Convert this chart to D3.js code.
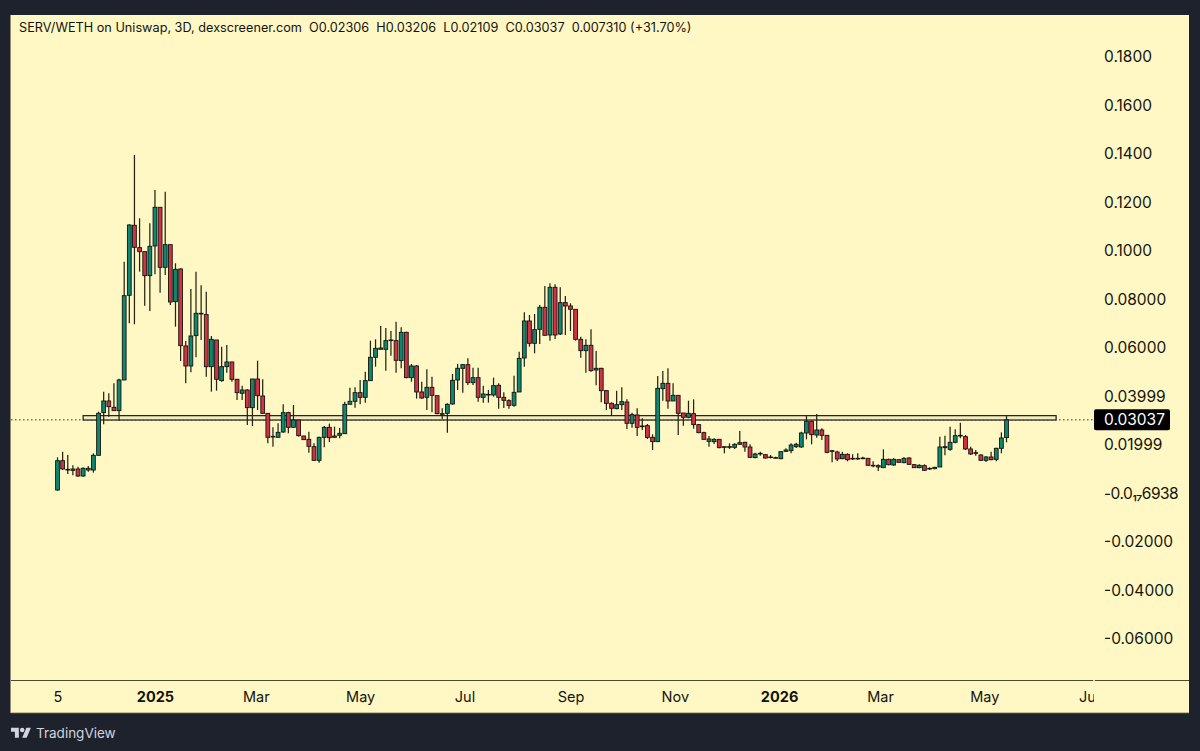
<!DOCTYPE html>
<html>
<head>
<meta charset="utf-8">
<script src="https://cdn.jsdelivr.net/npm/d3@7"></script>
<style>
    html, body { margin: 0; padding: 0; background: #1e222d; }
    svg { display: block; }
    text { font-family: Inter, "Noto Sans", sans-serif; }
</style>
</head>
<body>
<div id="chart"></div>
<script>
// SERV/WETH 3D candles, starting 5 Nov 2024
const candleCount = 186;
const opens = [
    .00144,.01354,.00969,.00955,.01010,.00722,.01038,.00969,.01574,.03333,
    .03815,.03553,.03416,.04681,.08172,.11059,.10138,.09973,.08983,.10207,
    .11801,.09327,.10261,.07911,.09258,.06083,.05258,.06509,.07430,.07375,
    .05230,.06330,.04653,.05230,.05423,.04708,.04131,.04268,.03540,.04722,
    .04021,.03306,.02357,.02316,.02536,.03333,.02729,.03031,.02371,.02234,
    .01931,.01368,.02316,.02729,.02371,.02399,.02467,.03677,.03801,.04158,
    .03966,.04653,.05615,.05945,.05945,.06303,.06303,.05478,.06646,.04777,
    .05258,.04186,.03966,.04378,.04034,.03292,.03306,.03691,.04681,.05162,
    .05313,.04571,.04777,.03966,.04089,.04062,.04461,.03966,.03828,.03636,
    .04186,.05588,.07114,.06193,.06770,.07677,.06536,.08502,.06577,.07870,
    .07732,.07595,.06358,.05890,.06110,.05093,.05162,.04241,.03718,.03498,
    .03663,.03773,.02894,.03237,.02784,.02797,.02316,.02138,.04323,.04543,
    .03815,.04048,.03320,.03141,.03292,.02839,.02509,.02151,.02138,.02234,
    .01931,.01904,.01904,.02028,.02110,.01918,.01478,.01629,.01601,.01505,
    .01478,.01436,.01739,.01766,.01931,.01918,.02495,.02976,.02412,.02619,
    .02399,.01766,.01711,.01436,.01615,.01450,.01450,.01464,.01450,.01162,
    .01148,.01065,.01409,.01175,.01395,.01272,.01464,.01189,.01065,.01148,
    .01038,.01024,.01093,.01890,.01821,.02110,.02399,.02344,.01835,.01684,
    .01588,.01368,.01505,.01409,.01863,.02306
];
const highs = [
    .01491,.01725,.01588,.01162,.01107,.01079,.01134,.01656,.03375,.04199,
    .04131,.04543,.04736,.09560,.11100,.13959,.11347,.09973,.11141,.12516,
    .11801,.12447,.10261,.09492,.09285,.06289,.08433,.09148,.08584,.08323,
    .06495,.06330,.06055,.06124,.05437,.04736,.04447,.04296,.04722,.05478,
    .04708,.03306,.02729,.02894,.03677,.03375,.03650,.03031,.02385,.02550,
    .02069,.02344,.02784,.02880,.02756,.02701,.03787,.04364,.04378,.04681,
    .05024,.06303,.06358,.06907,.06825,.06701,.07086,.06852,.06674,.05340,
    .05299,.04612,.05120,.04818,.04034,.03512,.03718,.04928,.05340,.05340,
    .05574,.05189,.05189,.04447,.04268,.04777,.04543,.04172,.03883,.04859,
    .05849,.07471,.07361,.07402,.07773,.08557,.08667,.08626,.08502,.08145,
    .07842,.07595,.06468,.06358,.06770,.05876,.05189,.04268,.03760,.04241,
    .04378,.03883,.03333,.03512,.03100,.02866,.02440,.04845,.05052,.05162,
    .04543,.04048,.03320,.03828,.03883,.02866,.02550,.02371,.02275,.02248,
    .01931,.02069,.02069,.02577,.02138,.02028,.01684,.01725,.01629,.01588,
    .01519,.01753,.01863,.02069,.02096,.02550,.03196,.02990,.03278,.02687,
    .02399,.01794,.01766,.01725,.01656,.01615,.01656,.01519,.01464,.01326,
    .01203,.01821,.01436,.01450,.01409,.01491,.01491,.01217,.01203,.01203,
    .01079,.01107,.02344,.02385,.02756,.02646,.02921,.02412,.01931,.01794,
    .01615,.01546,.01725,.01890,.02522,.03206
];
const lows = [
    .00117,.00969,.00804,.00749,.00694,.00694,.00900,.00859,.01574,.02852,
    .03168,.03416,.03004,.04681,.07017,.06976,.09148,.07746,.07526,.09038,
    .08282,.09011,.07773,.06880,.05464,.04543,.04997,.05615,.06330,.04818,
    .04199,.04241,.04612,.04983,.04612,.03856,.03856,.02825,.02784,.03443,
    .03278,.02069,.01931,.02316,.02509,.02481,.02715,.02344,.02206,.01684,
    .01354,.01272,.01904,.02124,.02302,.02275,.02467,.03677,.03540,.03677,
    .03746,.04653,.05230,.05945,.05065,.05684,.04983,.05162,.04749,.04612,
    .03911,.03897,.03443,.03347,.03265,.03059,.02509,.03663,.04268,.04158,
    .04474,.04474,.03787,.03746,.03746,.03993,.03498,.03526,.03498,.03581,
    .04186,.05230,.06055,.05780,.06165,.06522,.06303,.06371,.06536,.06536,
    .06701,.06303,.05602,.04983,.05024,.04461,.03760,.03443,.03237,.03471,
    .03443,.02660,.02715,.02371,.02619,.02248,.01794,.02138,.03828,.03498,
    .03815,.02412,.02797,.03100,.02674,.02481,.02206,.01931,.02041,.01862,
    .01656,.01835,.01835,.02000,.01725,.01464,.01450,.01560,.01436,.01450,
    .01450,.01409,.01711,.01656,.01876,.01890,.02234,.02028,.02302,.02206,
    .01656,.01285,.01340,.01409,.01326,.01381,.01395,.01409,.01148,.01079,
    .00928,.01052,.01162,.01148,.01258,.01244,.01175,.01052,.01038,.00928,
    .00969,.00997,.01093,.01574,.01766,.02069,.02275,.01794,.01588,.01560,
    .01340,.01299,.01368,.01326,.01656,.02109
];
const closes = [
    .01354,.01010,.00997,.01010,.00722,.01038,.00969,.01574,.03306,.03815,
    .03581,.03416,.04681,.08158,.11072,.10152,.09973,.08983,.10193,.11801,
    .09327,.10261,.07897,.09244,.06096,.05258,.06495,.07430,.07402,.05230,
    .06358,.04708,.05230,.05423,.04708,.04158,.04268,.03540,.04722,.04034,
    .03306,.02316,.02330,.02522,.03333,.02729,.03031,.02385,.02220,.01945,
    .01368,.02316,.02729,.02302,.02316,.02481,.03677,.03801,.04158,.03966,
    .04653,.05615,.05986,.06000,.06303,.06330,.05492,.06646,.04777,.05258,
    .04186,.03938,.04378,.04048,.03292,.03265,.03677,.04667,.05162,.05313,
    .04571,.04777,.03966,.04103,.04062,.04447,.03966,.03842,.03636,.04172,
    .05574,.07114,.06193,.06756,.07677,.06522,.08502,.06536,.07870,.07732,
    .07595,.06358,.05890,.06110,.05065,.05162,.04241,.03718,.03512,.03663,
    .03787,.02894,.03251,.02729,.02756,.02316,.02138,.04337,.04543,.03815,
    .04048,.03306,.03141,.03306,.02839,.02509,.02234,.02248,.02234,.01890,
    .01904,.01931,.02028,.02096,.01918,.01491,.01629,.01656,.01464,.01491,
    .01464,.01725,.01794,.02000,.02028,.02495,.02976,.02426,.02619,.02399,
    .01698,.01739,.01423,.01615,.01395,.01423,.01423,.01436,.01162,.01148,
    .01093,.01409,.01189,.01409,.01285,.01450,.01203,.01065,.01162,.00955,
    .01010,.01079,.01918,.01931,.02110,.02385,.02371,.01835,.01629,.01656,
    .01368,.01505,.01395,.01863,.02289,.03037
];

const priceTicks = [0.18, 0.16, 0.14, 0.12, 0.10, 0.08, 0.06, 0.04, 0.02, 0, -0.02, -0.04, -0.06];
const priceLabels = ["0.1800", "0.1600", "0.1400", "0.1200", "0.1000", "0.08000", "0.06000", "0.03999", "0.01999",
    "-0.0₁₇6938", "-0.02000", "-0.04000", "-0.06000"];
const timeTicks = ["2024-11-05", "2025-01-01", "2025-03-01", "2025-05-01", "2025-07-01", "2025-09-01", "2025-11-01",
    "2026-01-01", "2026-03-01", "2026-05-01", "2026-07-01"];
const timeLabels = ["5", "2025", "Mar", "May", "Jul", "Sep", "Nov", "2026", "Mar", "May", "Jul"];
const zonePrices = [0.0321, 0.0303];
const zoneDates = ["2024-11-20", "2026-06-12"];
const legend = "SERV/WETH on Uniswap, 3D, dexscreener.com  O0.02306  H0.03206  L0.02109  C0.03037  0.007310 (+31.70%)";

const width = 1200, height = 751;
const frame = { left: 11, top: 15, right: 1189, bottom: 713 };
const plotRight = 1094, axisY = 680;

const green = "#0f8573", red = "#cf3347", ink = "#14140c";

const svg = d3.select("#chart").append("svg")
    .attr("width", width)
    .attr("height", height);

const parseDate = d3.utcParse("%Y-%m-%d");
const firstDay = parseDate("2024-11-05");
const candleDates = d3.range(candleCount).map(i => d3.utcDay.offset(firstDay, i * 3));

const x = d3.scaleUtc()
    .domain([firstDay, parseDate("2026-07-01")])
    .range([57.5, 1088.6]);
const y = d3.scaleLinear()
    .domain([-0.0769, 0.1973])
    .range([axisY, frame.top]);

svg.append("rect")
    .attr("x", frame.left - 0.5)
    .attr("y", frame.top)
    .attr("width", frame.right - frame.left + 0.5)
    .attr("height", frame.bottom - frame.top)
    .attr("fill", "#fff8c4");

svg.append("defs").append("clipPath").attr("id", "plot")
    .append("rect")
    .attr("x", frame.left)
    .attr("y", frame.top)
    .attr("width", plotRight - frame.left)
    .attr("height", frame.bottom - frame.top);

const plot = svg.append("g").attr("clip-path", "url(#plot)");

// last price line
const lastClose = closes[candleCount - 1];
plot.append("line")
    .attr("x1", frame.left).attr("x2", plotRight)
    .attr("y1", y(lastClose)).attr("y2", y(lastClose))
    .attr("stroke", "#33331f")
    .attr("stroke-width", 1)
    .attr("stroke-dasharray", "1.5 2.5");

// support zone
plot.append("rect")
    .attr("x", x(parseDate(zoneDates[0])))
    .attr("y", y(zonePrices[0]))
    .attr("width", x(parseDate(zoneDates[1])) - x(parseDate(zoneDates[0])))
    .attr("height", y(zonePrices[1]) - y(zonePrices[0]))
    .attr("fill", "#f3ecc4")
    .attr("stroke", "#1c1c10")
    .attr("stroke-width", 1.2);

const candles = plot.selectAll("g.candle")
    .data(d3.range(candleCount))
    .enter().append("g")
    .attr("class", "candle");

candles.append("line")
    .attr("x1", i => x(candleDates[i]))
    .attr("x2", i => x(candleDates[i]))
    .attr("y1", i => y(highs[i]))
    .attr("y2", i => y(lows[i]))
    .attr("stroke", "#242414")
    .attr("stroke-width", 1.25);

candles.append("rect")
    .attr("x", i => x(candleDates[i]) - 1.9)
    .attr("width", 3.8)
    .attr("y", i => y(Math.max(opens[i], closes[i])))
    .attr("height", i => Math.max(0.6, Math.abs(y(opens[i]) - y(closes[i]))))
    .attr("fill", i => closes[i] >= opens[i] ? green : red)
    .attr("stroke", ink)
    .attr("stroke-width", 0.9);

// time axis
const timeAxis = plot.append("g")
    .attr("transform", `translate(0,${axisY})`)
    .call(d3.axisBottom(x)
        .tickValues(timeTicks.map(parseDate))
        .tickSize(0)
        .tickPadding(12)
        .tickFormat((d, i) => timeLabels[i]));
timeAxis.select(".domain").remove();
timeAxis.selectAll("text")
    .attr("fill", "#14140c")
    .attr("font-size", 14.5)
    .attr("font-family", "Inter, sans-serif")
    .attr("font-weight", (d, i) => /^\d{4}$/.test(timeLabels[i]) ? 700 : 400);

[[frame.left, plotRight - 0.8], [plotRight + 0.8, frame.right]].forEach(seg => {
    svg.append("line")
        .attr("x1", seg[0]).attr("x2", seg[1])
        .attr("y1", axisY + 0.5).attr("y2", axisY + 0.5)
        .attr("stroke", "#4d4a2e")
        .attr("stroke-width", 1);
});
svg.append("line")
    .attr("x1", frame.left).attr("x2", frame.right)
    .attr("y1", frame.bottom).attr("y2", frame.bottom)
    .attr("stroke", "#6b6840")
    .attr("stroke-width", 0.8);

// price axis
const priceAxis = svg.append("g")
    .attr("transform", `translate(${plotRight},0)`)
    .call(d3.axisRight(y)
        .tickValues(priceTicks)
        .tickSize(0)
        .tickPadding(10)
        .tickFormat((d, i) => priceLabels[i]));
priceAxis.select(".domain").remove();
priceAxis.selectAll("text")
    .attr("fill", "#14140c")
    .attr("font-size", 15.5)
    .attr("font-family", "Inter, sans-serif")
    .attr("letter-spacing", (d, i) => priceLabels[i].includes("₁₇") ? -0.55 : 0);

// last price tag
svg.append("rect")
    .attr("x", plotRight)
    .attr("y", y(lastClose) - 10.5)
    .attr("width", 76)
    .attr("height", 21)
    .attr("rx", 2)
    .attr("fill", "#000");
svg.append("text")
    .attr("x", plotRight + 10)
    .attr("y", y(lastClose))
    .attr("dy", "0.34em")
    .attr("fill", "#fff")
    .attr("font-size", 15.5)
    .text(lastClose.toFixed(5));

// header
svg.append("text")
    .attr("x", 19)
    .attr("y", 32)
    .attr("fill", "#14140c")
    .attr("font-size", 12.7)
    .attr("xml:space", "preserve")
    .style("white-space", "pre")
    .text(legend);

// TradingView mark
const logo = svg.append("g")
    .attr("transform", "translate(11,725.5) scale(0.56)")
    .attr("fill", "#d1d4dc");
logo.append("path").attr("d", "M14 22H7V11H0V4h14v18zM28 22h-8l7.5-18h8L28 22z");
logo.append("circle").attr("cx", 20).attr("cy", 8).attr("r", 4);
svg.append("text")
    .attr("x", 36)
    .attr("y", 738)
    .attr("fill", "#d1d4dc")
    .attr("font-size", 13.5)
    .text("TradingView");
</script>
</body>
</html>
